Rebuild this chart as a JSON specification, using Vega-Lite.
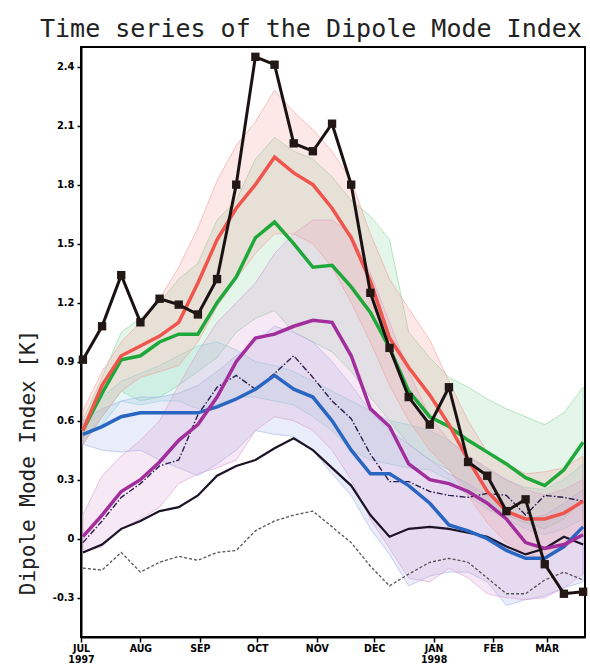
{
"$schema": "https://vega.github.io/schema/vega-lite/v6.json",
"autosize": {"type": "none"},
"padding": {"left": 81, "top": 47, "right": 5, "bottom": 31},
"width": 504,
"height": 590,
"background": "white",
"config": {"view": {"stroke": "black", "strokeWidth": 2}},
"title": {"text": "Time series of the Dipole Mode Index", "anchor": "start", "frame": "group", "font": "DejaVu Sans Mono", "fontSize": 25, "fontWeight": "normal", "color": "#222222", "dx": -41, "dy": 27, "offset": 12, "baseline": "alphabetic"},
"resolve": {"scale": {"color": "independent", "stroke": "independent"}},
"datasets": {
"B": [
{"d":"1997-07-02T00:00","b":"green","lo":0.48,"hi":0.60},{"d":"1997-07-12T00:00","b":"green","lo":0.62,"hi":0.82},{"d":"1997-07-22T00:00","b":"green","lo":0.75,"hi":1.05},{"d":"1997-08-01T00:00","b":"green","lo":0.70,"hi":1.12},{"d":"1997-08-11T00:00","b":"green","lo":0.72,"hi":1.20},{"d":"1997-08-21T00:00","b":"green","lo":0.78,"hi":1.32},{"d":"1997-08-31T00:00","b":"green","lo":0.85,"hi":1.40},{"d":"1997-09-10T00:00","b":"green","lo":0.92,"hi":1.62},{"d":"1997-09-20T00:00","b":"green","lo":1.05,"hi":1.72},{"d":"1997-09-30T00:00","b":"green","lo":1.12,"hi":1.93},{"d":"1997-10-10T00:00","b":"green","lo":1.16,"hi":2.04},{"d":"1997-10-20T00:00","b":"green","lo":1.05,"hi":1.97},{"d":"1997-10-30T00:00","b":"green","lo":1.00,"hi":1.93},{"d":"1997-11-09T00:00","b":"green","lo":0.95,"hi":1.84},{"d":"1997-11-19T00:00","b":"green","lo":0.85,"hi":1.72},{"d":"1997-11-29T00:00","b":"green","lo":0.72,"hi":1.64},{"d":"1997-12-09T00:00","b":"green","lo":0.60,"hi":1.52},{"d":"1997-12-19T00:00","b":"green","lo":0.48,"hi":1.05},{"d":"1997-12-30T00:00","b":"green","lo":0.40,"hi":0.92},{"d":"1998-01-09T00:00","b":"green","lo":0.35,"hi":0.82},{"d":"1998-01-19T00:00","b":"green","lo":0.25,"hi":0.77},{"d":"1998-01-29T00:00","b":"green","lo":0.18,"hi":0.71},{"d":"1998-02-08T00:00","b":"green","lo":0.12,"hi":0.66},{"d":"1998-02-18T00:00","b":"green","lo":0.08,"hi":0.62},{"d":"1998-02-28T00:00","b":"green","lo":0.05,"hi":0.58},{"d":"1998-03-10T00:00","b":"green","lo":0.10,"hi":0.64},{"d":"1998-03-20T00:00","b":"green","lo":0.20,"hi":0.77},
{"d":"1997-07-02T00:00","b":"cyan","lo":0.50,"hi":0.55},{"d":"1997-07-12T00:00","b":"cyan","lo":0.58,"hi":0.72},{"d":"1997-07-22T00:00","b":"cyan","lo":0.70,"hi":0.80},{"d":"1997-08-01T00:00","b":"cyan","lo":0.68,"hi":0.84},{"d":"1997-08-11T00:00","b":"cyan","lo":0.70,"hi":0.88},{"d":"1997-08-21T00:00","b":"cyan","lo":0.70,"hi":0.93},{"d":"1997-08-31T00:00","b":"cyan","lo":0.66,"hi":0.98},{"d":"1997-09-10T00:00","b":"cyan","lo":0.68,"hi":1.00},{"d":"1997-09-20T00:00","b":"cyan","lo":0.72,"hi":0.96},{"d":"1997-09-30T00:00","b":"cyan","lo":0.72,"hi":0.90},{"d":"1997-10-10T00:00","b":"cyan","lo":0.70,"hi":0.88},{"d":"1997-10-20T00:00","b":"cyan","lo":0.68,"hi":0.85},{"d":"1997-10-30T00:00","b":"cyan","lo":0.62,"hi":0.80},{"d":"1997-11-09T00:00","b":"cyan","lo":0.55,"hi":0.75},{"d":"1997-11-19T00:00","b":"cyan","lo":0.45,"hi":0.70},{"d":"1997-11-29T00:00","b":"cyan","lo":0.40,"hi":0.65},{"d":"1997-12-09T00:00","b":"cyan","lo":0.38,"hi":0.60},{"d":"1997-12-19T00:00","b":"cyan","lo":0.36,"hi":0.58},{"d":"1997-12-30T00:00","b":"cyan","lo":0.35,"hi":0.55},{"d":"1998-01-09T00:00","b":"cyan","lo":0.30,"hi":0.50},{"d":"1998-01-19T00:00","b":"cyan","lo":0.22,"hi":0.42},{"d":"1998-01-29T00:00","b":"cyan","lo":0.15,"hi":0.35},{"d":"1998-02-08T00:00","b":"cyan","lo":0.10,"hi":0.30},{"d":"1998-02-18T00:00","b":"cyan","lo":0.05,"hi":0.26},{"d":"1998-02-28T00:00","b":"cyan","lo":0.02,"hi":0.25},{"d":"1998-03-10T00:00","b":"cyan","lo":0.05,"hi":0.30},{"d":"1998-03-20T00:00","b":"cyan","lo":0.10,"hi":0.38},
{"d":"1997-07-02T00:00","b":"blue","lo":0.48,"hi":0.60},{"d":"1997-07-12T00:00","b":"blue","lo":0.45,"hi":0.66},{"d":"1997-07-22T00:00","b":"blue","lo":0.44,"hi":0.70},{"d":"1997-08-01T00:00","b":"blue","lo":0.45,"hi":0.72},{"d":"1997-08-11T00:00","b":"blue","lo":0.40,"hi":0.72},{"d":"1997-08-21T00:00","b":"blue","lo":0.36,"hi":0.74},{"d":"1997-08-31T00:00","b":"blue","lo":0.32,"hi":0.78},{"d":"1997-09-10T00:00","b":"blue","lo":0.38,"hi":0.85},{"d":"1997-09-20T00:00","b":"blue","lo":0.45,"hi":0.93},{"d":"1997-09-30T00:00","b":"blue","lo":0.55,"hi":1.00},{"d":"1997-10-10T00:00","b":"blue","lo":0.53,"hi":1.08},{"d":"1997-10-20T00:00","b":"blue","lo":0.52,"hi":1.05},{"d":"1997-10-30T00:00","b":"blue","lo":0.45,"hi":1.00},{"d":"1997-11-09T00:00","b":"blue","lo":0.33,"hi":0.90},{"d":"1997-11-19T00:00","b":"blue","lo":0.22,"hi":0.78},{"d":"1997-11-29T00:00","b":"blue","lo":0.05,"hi":0.65},{"d":"1997-12-09T00:00","b":"blue","lo":-0.08,"hi":0.55},{"d":"1997-12-19T00:00","b":"blue","lo":-0.24,"hi":0.48},{"d":"1997-12-30T00:00","b":"blue","lo":-0.19,"hi":0.40},{"d":"1998-01-09T00:00","b":"blue","lo":-0.17,"hi":0.33},{"d":"1998-01-19T00:00","b":"blue","lo":-0.17,"hi":0.28},{"d":"1998-01-29T00:00","b":"blue","lo":-0.22,"hi":0.22},{"d":"1998-02-08T00:00","b":"blue","lo":-0.34,"hi":0.15},{"d":"1998-02-18T00:00","b":"blue","lo":-0.31,"hi":0.10},{"d":"1998-02-28T00:00","b":"blue","lo":-0.29,"hi":0.12},{"d":"1998-03-10T00:00","b":"blue","lo":-0.25,"hi":0.18},{"d":"1998-03-20T00:00","b":"blue","lo":-0.22,"hi":0.25},
{"d":"1997-07-02T00:00","b":"purple","lo":-0.07,"hi":0.12},{"d":"1997-07-12T00:00","b":"purple","lo":-0.04,"hi":0.32},{"d":"1997-07-22T00:00","b":"purple","lo":0.05,"hi":0.42},{"d":"1997-08-01T00:00","b":"purple","lo":0.10,"hi":0.50},{"d":"1997-08-11T00:00","b":"purple","lo":0.16,"hi":0.60},{"d":"1997-08-21T00:00","b":"purple","lo":0.28,"hi":0.78},{"d":"1997-08-31T00:00","b":"purple","lo":0.33,"hi":0.95},{"d":"1997-09-10T00:00","b":"purple","lo":0.36,"hi":1.10},{"d":"1997-09-20T00:00","b":"purple","lo":0.40,"hi":1.20},{"d":"1997-09-30T00:00","b":"purple","lo":0.55,"hi":1.30},{"d":"1997-10-10T00:00","b":"purple","lo":0.62,"hi":1.45},{"d":"1997-10-20T00:00","b":"purple","lo":0.60,"hi":1.55},{"d":"1997-10-30T00:00","b":"purple","lo":0.55,"hi":1.62},{"d":"1997-11-09T00:00","b":"purple","lo":0.45,"hi":1.62},{"d":"1997-11-19T00:00","b":"purple","lo":0.30,"hi":1.55},{"d":"1997-11-29T00:00","b":"purple","lo":0.10,"hi":1.35},{"d":"1997-12-09T00:00","b":"purple","lo":-0.05,"hi":1.10},{"d":"1997-12-19T00:00","b":"purple","lo":-0.20,"hi":0.85},{"d":"1997-12-30T00:00","b":"purple","lo":-0.22,"hi":0.62},{"d":"1998-01-09T00:00","b":"purple","lo":-0.15,"hi":0.50},{"d":"1998-01-19T00:00","b":"purple","lo":-0.20,"hi":0.42},{"d":"1998-01-29T00:00","b":"purple","lo":-0.28,"hi":0.36},{"d":"1998-02-08T00:00","b":"purple","lo":-0.30,"hi":0.30},{"d":"1998-02-18T00:00","b":"purple","lo":-0.31,"hi":0.25},{"d":"1998-02-28T00:00","b":"purple","lo":-0.30,"hi":0.22},{"d":"1998-03-10T00:00","b":"purple","lo":-0.25,"hi":0.25},{"d":"1998-03-20T00:00","b":"purple","lo":-0.18,"hi":0.30},
{"d":"1997-07-02T00:00","b":"red","lo":0.48,"hi":0.65},{"d":"1997-07-12T00:00","b":"red","lo":0.62,"hi":0.85},{"d":"1997-07-22T00:00","b":"red","lo":0.75,"hi":1.00},{"d":"1997-08-01T00:00","b":"red","lo":0.82,"hi":1.10},{"d":"1997-08-11T00:00","b":"red","lo":0.85,"hi":1.22},{"d":"1997-08-21T00:00","b":"red","lo":0.88,"hi":1.38},{"d":"1997-08-31T00:00","b":"red","lo":1.00,"hi":1.58},{"d":"1997-09-10T00:00","b":"red","lo":1.18,"hi":1.82},{"d":"1997-09-20T00:00","b":"red","lo":1.32,"hi":2.00},{"d":"1997-09-30T00:00","b":"red","lo":1.45,"hi":2.12},{"d":"1997-10-10T00:00","b":"red","lo":1.55,"hi":2.28},{"d":"1997-10-20T00:00","b":"red","lo":1.55,"hi":2.17},{"d":"1997-10-30T00:00","b":"red","lo":1.50,"hi":2.08},{"d":"1997-11-09T00:00","b":"red","lo":1.38,"hi":1.97},{"d":"1997-11-19T00:00","b":"red","lo":1.20,"hi":1.82},{"d":"1997-11-29T00:00","b":"red","lo":1.00,"hi":1.55},{"d":"1997-12-09T00:00","b":"red","lo":0.78,"hi":1.32},{"d":"1997-12-19T00:00","b":"red","lo":0.60,"hi":1.17},{"d":"1997-12-30T00:00","b":"red","lo":0.45,"hi":1.01},{"d":"1998-01-09T00:00","b":"red","lo":0.35,"hi":0.80},{"d":"1998-01-19T00:00","b":"red","lo":0.22,"hi":0.60},{"d":"1998-01-29T00:00","b":"red","lo":0.08,"hi":0.44},{"d":"1998-02-08T00:00","b":"red","lo":-0.02,"hi":0.38},{"d":"1998-02-18T00:00","b":"red","lo":-0.08,"hi":0.33},{"d":"1998-02-28T00:00","b":"red","lo":-0.10,"hi":0.34},{"d":"1998-03-10T00:00","b":"red","lo":-0.05,"hi":0.36},{"d":"1998-03-20T00:00","b":"red","lo":0.02,"hi":0.42}
],
"L": [
{"d":"1997-07-02T00:00","s":"gray","v":-0.15},{"d":"1997-07-12T00:00","s":"gray","v":-0.16},{"d":"1997-07-22T00:00","s":"gray","v":-0.07},{"d":"1997-08-01T00:00","s":"gray","v":-0.17},{"d":"1997-08-11T00:00","s":"gray","v":-0.12},{"d":"1997-08-21T00:00","s":"gray","v":-0.09},{"d":"1997-08-31T00:00","s":"gray","v":-0.11},{"d":"1997-09-10T00:00","s":"gray","v":-0.07},{"d":"1997-09-20T00:00","s":"gray","v":-0.06},{"d":"1997-09-30T00:00","s":"gray","v":0.04},{"d":"1997-10-10T00:00","s":"gray","v":0.09},{"d":"1997-10-20T00:00","s":"gray","v":0.12},{"d":"1997-10-30T00:00","s":"gray","v":0.14},{"d":"1997-11-09T00:00","s":"gray","v":0.06},{"d":"1997-11-19T00:00","s":"gray","v":-0.02},{"d":"1997-11-29T00:00","s":"gray","v":-0.14},{"d":"1997-12-09T00:00","s":"gray","v":-0.24},{"d":"1997-12-19T00:00","s":"gray","v":-0.18},{"d":"1997-12-30T00:00","s":"gray","v":-0.12},{"d":"1998-01-09T00:00","s":"gray","v":-0.10},{"d":"1998-01-19T00:00","s":"gray","v":-0.12},{"d":"1998-01-29T00:00","s":"gray","v":-0.20},{"d":"1998-02-08T00:00","s":"gray","v":-0.28},{"d":"1998-02-18T00:00","s":"gray","v":-0.28},{"d":"1998-02-28T00:00","s":"gray","v":-0.21},{"d":"1998-03-10T00:00","s":"gray","v":-0.17},{"d":"1998-03-20T00:00","s":"gray","v":-0.21},
{"d":"1997-07-02T00:00","s":"thin","v":-0.07},{"d":"1997-07-12T00:00","s":"thin","v":-0.03},{"d":"1997-07-22T00:00","s":"thin","v":0.05},{"d":"1997-08-01T00:00","s":"thin","v":0.09},{"d":"1997-08-11T00:00","s":"thin","v":0.14},{"d":"1997-08-21T00:00","s":"thin","v":0.16},{"d":"1997-08-31T00:00","s":"thin","v":0.22},{"d":"1997-09-10T00:00","s":"thin","v":0.32},{"d":"1997-09-20T00:00","s":"thin","v":0.37},{"d":"1997-09-30T00:00","s":"thin","v":0.40},{"d":"1997-10-10T00:00","s":"thin","v":0.46},{"d":"1997-10-20T00:00","s":"thin","v":0.51},{"d":"1997-10-30T00:00","s":"thin","v":0.45},{"d":"1997-11-09T00:00","s":"thin","v":0.36},{"d":"1997-11-19T00:00","s":"thin","v":0.27},{"d":"1997-11-29T00:00","s":"thin","v":0.12},{"d":"1997-12-09T00:00","s":"thin","v":0.01},{"d":"1997-12-19T00:00","s":"thin","v":0.05},{"d":"1997-12-30T00:00","s":"thin","v":0.06},{"d":"1998-01-09T00:00","s":"thin","v":0.05},{"d":"1998-01-19T00:00","s":"thin","v":0.03},{"d":"1998-01-29T00:00","s":"thin","v":0.01},{"d":"1998-02-08T00:00","s":"thin","v":-0.04},{"d":"1998-02-18T00:00","s":"thin","v":-0.08},{"d":"1998-02-28T00:00","s":"thin","v":-0.05},{"d":"1998-03-10T00:00","s":"thin","v":0.01},{"d":"1998-03-20T00:00","s":"thin","v":-0.03},
{"d":"1997-07-02T00:00","s":"dashdot","v":-0.02},{"d":"1997-07-12T00:00","s":"dashdot","v":0.09},{"d":"1997-07-22T00:00","s":"dashdot","v":0.21},{"d":"1997-08-01T00:00","s":"dashdot","v":0.28},{"d":"1997-08-11T00:00","s":"dashdot","v":0.37},{"d":"1997-08-21T00:00","s":"dashdot","v":0.40},{"d":"1997-08-31T00:00","s":"dashdot","v":0.63},{"d":"1997-09-10T00:00","s":"dashdot","v":0.77},{"d":"1997-09-20T00:00","s":"dashdot","v":0.83},{"d":"1997-09-30T00:00","s":"dashdot","v":0.76},{"d":"1997-10-10T00:00","s":"dashdot","v":0.84},{"d":"1997-10-20T00:00","s":"dashdot","v":0.93},{"d":"1997-10-30T00:00","s":"dashdot","v":0.82},{"d":"1997-11-09T00:00","s":"dashdot","v":0.70},{"d":"1997-11-19T00:00","s":"dashdot","v":0.61},{"d":"1997-11-29T00:00","s":"dashdot","v":0.43},{"d":"1997-12-09T00:00","s":"dashdot","v":0.29},{"d":"1997-12-19T00:00","s":"dashdot","v":0.29},{"d":"1997-12-30T00:00","s":"dashdot","v":0.24},{"d":"1998-01-09T00:00","s":"dashdot","v":0.22},{"d":"1998-01-19T00:00","s":"dashdot","v":0.21},{"d":"1998-01-29T00:00","s":"dashdot","v":0.23},{"d":"1998-02-08T00:00","s":"dashdot","v":0.22},{"d":"1998-02-18T00:00","s":"dashdot","v":0.12},{"d":"1998-02-28T00:00","s":"dashdot","v":0.22},{"d":"1998-03-10T00:00","s":"dashdot","v":0.21},{"d":"1998-03-20T00:00","s":"dashdot","v":0.19},
{"d":"1997-07-02T00:00","s":"blue","v":0.53},{"d":"1997-07-12T00:00","s":"blue","v":0.57},{"d":"1997-07-22T00:00","s":"blue","v":0.62},{"d":"1997-08-01T00:00","s":"blue","v":0.64},{"d":"1997-08-11T00:00","s":"blue","v":0.64},{"d":"1997-08-21T00:00","s":"blue","v":0.64},{"d":"1997-08-31T00:00","s":"blue","v":0.64},{"d":"1997-09-10T00:00","s":"blue","v":0.67},{"d":"1997-09-20T00:00","s":"blue","v":0.71},{"d":"1997-09-30T00:00","s":"blue","v":0.76},{"d":"1997-10-10T00:00","s":"blue","v":0.83},{"d":"1997-10-20T00:00","s":"blue","v":0.76},{"d":"1997-10-30T00:00","s":"blue","v":0.72},{"d":"1997-11-09T00:00","s":"blue","v":0.60},{"d":"1997-11-19T00:00","s":"blue","v":0.45},{"d":"1997-11-29T00:00","s":"blue","v":0.33},{"d":"1997-12-09T00:00","s":"blue","v":0.33},{"d":"1997-12-19T00:00","s":"blue","v":0.27},{"d":"1997-12-30T00:00","s":"blue","v":0.18},{"d":"1998-01-09T00:00","s":"blue","v":0.07},{"d":"1998-01-19T00:00","s":"blue","v":0.04},{"d":"1998-01-29T00:00","s":"blue","v":0.00},{"d":"1998-02-08T00:00","s":"blue","v":-0.06},{"d":"1998-02-18T00:00","s":"blue","v":-0.10},{"d":"1998-02-28T00:00","s":"blue","v":-0.10},{"d":"1998-03-10T00:00","s":"blue","v":-0.04},{"d":"1998-03-20T00:00","s":"blue","v":0.06},
{"d":"1997-07-02T00:00","s":"purple","v":0.01},{"d":"1997-07-12T00:00","s":"purple","v":0.12},{"d":"1997-07-22T00:00","s":"purple","v":0.24},{"d":"1997-08-01T00:00","s":"purple","v":0.30},{"d":"1997-08-11T00:00","s":"purple","v":0.39},{"d":"1997-08-21T00:00","s":"purple","v":0.50},{"d":"1997-08-31T00:00","s":"purple","v":0.58},{"d":"1997-09-10T00:00","s":"purple","v":0.72},{"d":"1997-09-20T00:00","s":"purple","v":0.90},{"d":"1997-09-30T00:00","s":"purple","v":1.02},{"d":"1997-10-10T00:00","s":"purple","v":1.04},{"d":"1997-10-20T00:00","s":"purple","v":1.08},{"d":"1997-10-30T00:00","s":"purple","v":1.11},{"d":"1997-11-09T00:00","s":"purple","v":1.10},{"d":"1997-11-19T00:00","s":"purple","v":0.93},{"d":"1997-11-29T00:00","s":"purple","v":0.66},{"d":"1997-12-09T00:00","s":"purple","v":0.57},{"d":"1997-12-19T00:00","s":"purple","v":0.38},{"d":"1997-12-30T00:00","s":"purple","v":0.30},{"d":"1998-01-09T00:00","s":"purple","v":0.28},{"d":"1998-01-19T00:00","s":"purple","v":0.24},{"d":"1998-01-29T00:00","s":"purple","v":0.18},{"d":"1998-02-08T00:00","s":"purple","v":0.10},{"d":"1998-02-18T00:00","s":"purple","v":-0.02},{"d":"1998-02-28T00:00","s":"purple","v":-0.05},{"d":"1998-03-10T00:00","s":"purple","v":-0.03},{"d":"1998-03-20T00:00","s":"purple","v":0.02},
{"d":"1997-07-02T00:00","s":"green","v":0.55},{"d":"1997-07-12T00:00","s":"green","v":0.74},{"d":"1997-07-22T00:00","s":"green","v":0.91},{"d":"1997-08-01T00:00","s":"green","v":0.93},{"d":"1997-08-11T00:00","s":"green","v":1.00},{"d":"1997-08-21T00:00","s":"green","v":1.04},{"d":"1997-08-31T00:00","s":"green","v":1.04},{"d":"1997-09-10T00:00","s":"green","v":1.20},{"d":"1997-09-20T00:00","s":"green","v":1.33},{"d":"1997-09-30T00:00","s":"green","v":1.53},{"d":"1997-10-10T00:00","s":"green","v":1.61},{"d":"1997-10-20T00:00","s":"green","v":1.50},{"d":"1997-10-30T00:00","s":"green","v":1.38},{"d":"1997-11-09T00:00","s":"green","v":1.39},{"d":"1997-11-19T00:00","s":"green","v":1.28},{"d":"1997-11-29T00:00","s":"green","v":1.15},{"d":"1997-12-09T00:00","s":"green","v":0.97},{"d":"1997-12-19T00:00","s":"green","v":0.75},{"d":"1997-12-30T00:00","s":"green","v":0.62},{"d":"1998-01-09T00:00","s":"green","v":0.57},{"d":"1998-01-19T00:00","s":"green","v":0.50},{"d":"1998-01-29T00:00","s":"green","v":0.44},{"d":"1998-02-08T00:00","s":"green","v":0.38},{"d":"1998-02-18T00:00","s":"green","v":0.31},{"d":"1998-02-28T00:00","s":"green","v":0.27},{"d":"1998-03-10T00:00","s":"green","v":0.35},{"d":"1998-03-20T00:00","s":"green","v":0.49},
{"d":"1997-07-02T00:00","s":"red","v":0.55},{"d":"1997-07-12T00:00","s":"red","v":0.78},{"d":"1997-07-22T00:00","s":"red","v":0.93},{"d":"1997-08-01T00:00","s":"red","v":0.98},{"d":"1997-08-11T00:00","s":"red","v":1.03},{"d":"1997-08-21T00:00","s":"red","v":1.10},{"d":"1997-08-31T00:00","s":"red","v":1.30},{"d":"1997-09-10T00:00","s":"red","v":1.52},{"d":"1997-09-20T00:00","s":"red","v":1.68},{"d":"1997-09-30T00:00","s":"red","v":1.80},{"d":"1997-10-10T00:00","s":"red","v":1.94},{"d":"1997-10-20T00:00","s":"red","v":1.86},{"d":"1997-10-30T00:00","s":"red","v":1.80},{"d":"1997-11-09T00:00","s":"red","v":1.68},{"d":"1997-11-19T00:00","s":"red","v":1.53},{"d":"1997-11-29T00:00","s":"red","v":1.31},{"d":"1997-12-09T00:00","s":"red","v":1.02},{"d":"1997-12-19T00:00","s":"red","v":0.87},{"d":"1997-12-30T00:00","s":"red","v":0.73},{"d":"1998-01-09T00:00","s":"red","v":0.58},{"d":"1998-01-19T00:00","s":"red","v":0.40},{"d":"1998-01-29T00:00","s":"red","v":0.24},{"d":"1998-02-08T00:00","s":"red","v":0.14},{"d":"1998-02-18T00:00","s":"red","v":0.10},{"d":"1998-02-28T00:00","s":"red","v":0.10},{"d":"1998-03-10T00:00","s":"red","v":0.13},{"d":"1998-03-20T00:00","s":"red","v":0.19},
{"d":"1997-07-02T00:00","s":"obs","v":0.91},{"d":"1997-07-12T00:00","s":"obs","v":1.08},{"d":"1997-07-22T00:00","s":"obs","v":1.34},{"d":"1997-08-01T00:00","s":"obs","v":1.10},{"d":"1997-08-11T00:00","s":"obs","v":1.22},{"d":"1997-08-21T00:00","s":"obs","v":1.19},{"d":"1997-08-31T00:00","s":"obs","v":1.14},{"d":"1997-09-10T00:00","s":"obs","v":1.32},{"d":"1997-09-20T00:00","s":"obs","v":1.80},{"d":"1997-09-30T00:00","s":"obs","v":2.45},{"d":"1997-10-10T00:00","s":"obs","v":2.41},{"d":"1997-10-20T00:00","s":"obs","v":2.01},{"d":"1997-10-30T00:00","s":"obs","v":1.97},{"d":"1997-11-09T00:00","s":"obs","v":2.11},{"d":"1997-11-19T00:00","s":"obs","v":1.80},{"d":"1997-11-29T00:00","s":"obs","v":1.25},{"d":"1997-12-09T00:00","s":"obs","v":0.97},{"d":"1997-12-19T00:00","s":"obs","v":0.72},{"d":"1997-12-30T00:00","s":"obs","v":0.58},{"d":"1998-01-09T00:00","s":"obs","v":0.77},{"d":"1998-01-19T00:00","s":"obs","v":0.39},{"d":"1998-01-29T00:00","s":"obs","v":0.32},{"d":"1998-02-08T00:00","s":"obs","v":0.14},{"d":"1998-02-18T00:00","s":"obs","v":0.20},{"d":"1998-02-28T00:00","s":"obs","v":-0.13},{"d":"1998-03-10T00:00","s":"obs","v":-0.28},{"d":"1998-03-20T00:00","s":"obs","v":-0.27}
]
},
"encoding": {
"x": {"field": "d", "type": "temporal",
"scale": {"domain": [{"year": 1997, "month": 7, "date": 1}, {"year": 1998, "month": 3, "date": 21}], "nice": false},
"axis": {"title": null, "grid": false, "domainColor": "black", "domainWidth": 2, "tickColor": "black", "tickWidth": 1.5, "tickSize": 5,
"values": [{"year":1997,"month":7,"date":1},{"year":1997,"month":8,"date":1},{"year":1997,"month":9,"date":1},{"year":1997,"month":10,"date":1},{"year":1997,"month":11,"date":1},{"year":1997,"month":12,"date":1},{"year":1998,"month":1,"date":1},{"year":1998,"month":2,"date":1},{"year":1998,"month":3,"date":1}],
"labelExpr": "month(datum.value) == 6 ? ['JUL', '1997'] : month(datum.value) == 0 ? ['JAN', '1998'] : upper(timeFormat(datum.value, '%b'))",
"labelFont": "DejaVu Sans Condensed", "labelFontWeight": "bold", "labelFontSize": 10.5, "labelColor": "black", "labelPadding": 1, "labelLineHeight": 11, "labelFlush": false, "labelOverlap": false}},
"y": {"type": "quantitative",
"scale": {"domain": [-0.5, 2.5], "nice": false, "zero": false},
"axis": {"title": "Dipole Mode Index [K]", "titleFont": "DejaVu Sans Mono", "titleFontSize": 21, "titleFontWeight": "normal", "titleColor": "#222222", "titleX": -53, "titleY": 415, "titleAngle": -90, "titleAlign": "center", "titleBaseline": "middle",
"grid": false, "domainColor": "black", "domainWidth": 2, "tickColor": "black", "tickWidth": 1.5, "tickSize": 4,
"values": [-0.3, 0, 0.3, 0.6, 0.9, 1.2, 1.5, 1.8, 2.1, 2.4],
"labelExpr": "datum.value == 0 ? '0' : datum.value < 0 ? '-' + format(-datum.value, '.1f') : format(datum.value, '.1f')",
"labelFont": "DejaVu Sans Condensed", "labelFontWeight": "bold", "labelFontSize": 11, "labelColor": "black", "labelPadding": 3}}
},
"layer": [
{"data": {"name": "B"},
"mark": {"type": "area", "fillOpacity": 0.24, "strokeOpacity": 0.6, "strokeWidth": 1},
"encoding": {"y": {"field": "lo", "type": "quantitative"}, "y2": {"field": "hi"},
"color": {"field": "b", "type": "nominal", "legend": null, "scale": {"domain": ["green", "cyan", "blue", "purple", "red"], "range": ["#8fd4a2", "#8ed8d6", "#a3b4e8", "#dc9fd6", "#f4a09c"]}},
"stroke": {"field": "b", "type": "nominal", "legend": null, "scale": {"domain": ["green", "cyan", "blue", "purple", "red"], "range": ["#8fd4a2", "#8ed8d6", "#a3b4e8", "#dc9fd6", "#f4a09c"]}}}},
{"data": {"name": "L"}, "transform": [{"filter": "datum.s == 'gray'"}],
"mark": {"type": "line", "color": "#555555", "strokeWidth": 1.3, "strokeDash": [3, 2]},
"encoding": {"y": {"field": "v", "type": "quantitative"}}},
{"data": {"name": "L"}, "transform": [{"filter": "datum.s == 'thin'"}],
"mark": {"type": "line", "color": "#1c1426", "strokeWidth": 2.2},
"encoding": {"y": {"field": "v", "type": "quantitative"}}},
{"data": {"name": "L"}, "transform": [{"filter": "datum.s == 'dashdot'"}],
"mark": {"type": "line", "color": "#2b1e4d", "strokeWidth": 1.4, "strokeDash": [6, 2, 1.5, 2]},
"encoding": {"y": {"field": "v", "type": "quantitative"}}},
{"data": {"name": "L"}, "transform": [{"filter": "datum.s == 'blue' || datum.s == 'purple' || datum.s == 'green' || datum.s == 'red'"}],
"mark": {"type": "line", "strokeWidth": 3.5, "opacity": 1},
"encoding": {"y": {"field": "v", "type": "quantitative"},
"color": {"field": "s", "type": "nominal", "legend": null, "scale": {"domain": ["blue", "purple", "green", "red"], "range": ["#2866c2", "#a22d9c", "#1fa83a", "#f0554d"]}}}},
{"data": {"name": "L"}, "transform": [{"filter": "datum.s == 'obs'"}],
"mark": {"type": "line", "color": "#1a1212", "strokeWidth": 3, "point": {"shape": "square", "size": 70, "filled": true, "color": "#231815", "opacity": 1}},
"encoding": {"y": {"field": "v", "type": "quantitative"}}}
]
}
